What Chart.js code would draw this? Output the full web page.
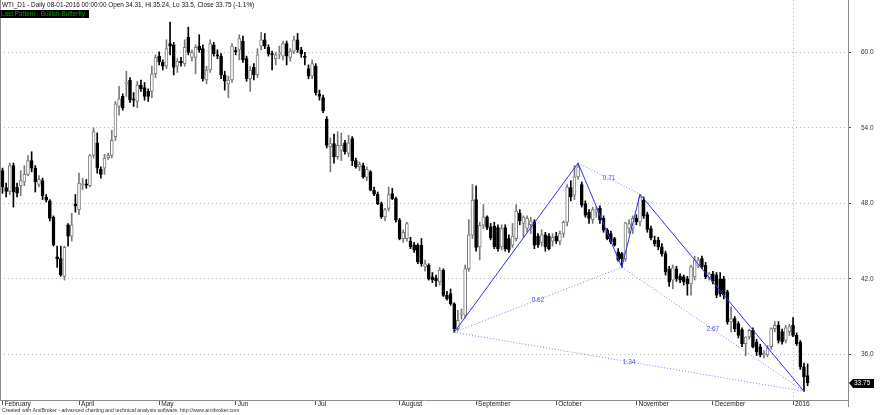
<!DOCTYPE html>
<html>
<head>
<meta charset="utf-8">
<title>WTI_D1 - Daily</title>
<script src="https://cdn.jsdelivr.net/npm/chart.js@4.4.0/dist/chart.umd.min.js"></script>
<style>
    html, body { margin: 0; padding: 0; background: #ffffff; }
    #wrap { width: 880px; height: 415px; }
</style>
</head>
<body>
<div id="wrap"><canvas id="wtiChart" width="880" height="415"></canvas></div>
<script>
// ==== DONNEES ====

// Etiquettes de l'axe du temps (position = numero de la barre)
const monthLabels = ['February', 'April', 'May', 'Jun', 'Jul', 'August', 'September', 'October', 'November', 'December', '2016'];
const monthIndex = [0, 21, 43, 64, 86, 109, 130, 152, 174, 195, 217];
const yearIndex = 217;

// Graduations de prix
const priceTicks = [36, 42, 48, 54, 60];

// Cours journaliers (une valeur par barre)
const openP = [
    50.6, 49.25, 48.95, 51.0, 49.3, 49.4, 49.7, 50.3, 51.4, 50.8, 49.5, 49.8, 48.5, 48.2, 46.9, 43.75, 43.6, 42.2, 46.3, 45.4,
    47.95, 47.5, 49.45, 49.55, 49.4, 51.8, 52.8, 50.7, 50.8, 51.6, 51.8, 53.3, 55.7, 56.5, 57.5, 57.8, 56.3, 56.1, 57.4, 57.2,
    56.9, 56.9, 58.3, 59.7, 59.2, 58.9, 60.7, 60.6, 58.9, 59.3, 59.1, 61.2, 59.6, 59.6, 60.5, 60.3, 57.8, 58.6, 60.6, 59.8,
    59.7, 58.2, 57.5, 57.8, 60.15, 60.2, 60.9, 59.5, 57.9, 58.8, 58.2, 60.5, 61.0, 60.4, 59.9, 59.5, 59.85, 59.7, 60.7, 59.6,
    60.1, 61.0, 60.2, 59.7, 58.7, 58.1, 58.9, 56.7, 56.4, 54.7, 52.5, 52.75, 51.7, 52.2, 52.8, 51.96, 53.15, 51.4, 50.9, 51.0,
    50.05, 50.5, 49.04, 48.72, 47.98, 46.92, 47.6, 48.78, 48.38, 46.66, 45.2, 45.2, 44.98, 44.7, 44.67, 44.67, 42.94, 43.07, 42.15, 42.07,
    41.75, 42.68, 40.69, 40.82, 40.02, 38.04, 39.2, 39.1, 42.8, 45.47, 48.3, 44.54, 46.26, 46.93, 46.13, 46.2, 46.08, 44.54, 46.08, 45.2,
    44.67, 45.2, 47.2, 46.4, 46.0, 46.3, 46.5, 45.4, 44.9, 45.5, 45.4, 45.0, 45.4, 45.0, 45.6, 46.5, 49.26, 48.65, 50.1, 49.5,
    47.99, 47.3, 46.7, 47.3, 47.6, 46.8, 45.87, 45.6, 45.2, 44.14, 44.0, 43.61, 46.0, 46.0, 46.8, 46.53, 48.25, 47.11, 46.0, 45.07,
    45.07, 44.54, 44.0, 42.8, 41.9, 42.8, 42.2, 42.15, 42.0, 41.6, 42.15, 43.0, 43.6, 43.08, 42.1, 42.4, 42.3, 42.0, 42.0, 40.96,
    38.57, 38.84, 38.44, 37.96, 36.85, 37.38, 37.9, 37.0, 36.6, 35.95, 35.95, 36.6, 38.04, 38.31, 37.8, 37.1, 37.8, 38.31, 37.5, 36.98,
    35.0, 34.31
];
const highP = [
    50.8, 49.6, 51.2, 51.2, 49.6, 50.6, 51.0, 51.8, 52.1, 51.0, 50.2, 50.0, 48.7, 48.3, 47.0, 44.6, 44.6, 44.6, 46.4, 47.2,
    48.7, 50.4, 50.0, 49.9, 51.9, 54.0, 53.6, 50.9, 51.9, 52.0, 53.8, 56.1, 57.3, 56.7, 58.5, 58.0, 56.8, 57.7, 57.8, 57.6,
    57.1, 58.9, 59.8, 60.05, 59.4, 61.0, 62.4, 60.8, 59.5, 59.6, 61.0, 62.0, 60.2, 60.6, 61.4, 60.6, 58.9, 61.0, 60.8, 60.2,
    59.9, 58.5, 58.1, 60.7, 60.4, 61.4, 61.3, 59.7, 58.9, 59.1, 60.3, 61.6, 61.5, 60.6, 60.1, 60.0, 60.5, 60.9, 60.9, 60.3,
    61.3, 61.5, 60.4, 60.0, 59.0, 59.4, 59.1, 57.0, 56.6, 54.9, 53.2, 53.5, 53.7, 53.6, 53.0, 53.4, 53.3, 51.6, 51.3, 51.2,
    50.9, 50.6, 49.3, 48.9, 48.1, 47.6, 49.3, 49.2, 48.5, 46.8, 45.9, 46.5, 45.3, 44.9, 44.8, 45.2, 43.5, 43.2, 42.5, 42.3,
    42.9, 42.8, 41.0, 41.2, 40.1, 39.5, 39.6, 43.1, 46.7, 49.5, 49.4, 46.5, 47.9, 47.0, 46.4, 46.5, 46.3, 46.3, 46.3, 45.5,
    46.4, 47.9, 47.5, 47.0, 47.0, 46.9, 46.7, 45.6, 45.9, 45.7, 45.6, 45.6, 45.7, 45.8, 46.6, 49.5, 49.8, 51.0, 51.2, 49.7,
    48.2, 47.5, 47.7, 47.7, 47.8, 47.0, 46.0, 45.8, 45.3, 44.4, 44.1, 46.5, 46.7, 47.0, 47.1, 48.72, 48.5, 47.3, 46.2, 45.4,
    45.3, 44.8, 44.2, 43.0, 43.1, 43.0, 42.4, 42.3, 42.2, 43.1, 43.8, 43.7, 43.8, 43.3, 42.5, 42.6, 42.5, 42.5, 42.2, 41.1,
    39.77, 39.0, 38.6, 38.1, 37.4, 38.0, 38.1, 37.2, 36.8, 36.3, 36.7, 38.1, 38.6, 38.6, 38.0, 38.3, 38.4, 38.92, 37.7, 37.1,
    35.3, 35.24
];
const lowP = [
    48.8, 48.5, 48.7, 47.7, 48.5, 48.6, 49.4, 50.2, 50.5, 48.9, 49.3, 48.3, 48.1, 46.6, 44.6, 42.9, 42.2, 41.9, 44.6, 45.0,
    47.3, 47.1, 49.1, 49.2, 49.3, 51.6, 50.4, 50.0, 50.3, 51.5, 51.6, 53.0, 55.0, 55.4, 56.5, 56.0, 55.7, 55.6, 56.9, 56.2,
    56.1, 56.4, 58.0, 59.0, 58.6, 58.7, 59.8, 58.2, 58.4, 58.9, 58.9, 59.8, 59.3, 58.3, 60.0, 57.7, 57.5, 58.4, 59.7, 59.5,
    57.9, 57.0, 56.4, 57.6, 59.8, 59.4, 59.2, 57.7, 56.9, 57.8, 58.0, 60.2, 60.3, 59.7, 58.6, 59.0, 59.5, 59.4, 59.0, 59.3,
    59.9, 60.0, 59.6, 59.0, 57.9, 57.9, 56.6, 56.2, 55.2, 52.4, 50.5, 51.2, 51.5, 51.4, 51.9, 51.7, 51.0, 50.8, 50.6, 50.0,
    49.8, 49.0, 48.6, 47.9, 46.8, 46.6, 47.4, 48.3, 46.5, 45.1, 44.9, 45.0, 44.4, 44.1, 43.2, 43.0, 42.6, 41.9, 41.7, 41.4,
    41.5, 40.6, 40.3, 39.9, 37.75, 37.9, 38.8, 38.9, 42.6, 45.2, 44.2, 43.5, 46.0, 45.9, 45.1, 44.4, 44.2, 44.3, 44.2, 44.1,
    44.5, 45.0, 46.3, 45.3, 45.7, 45.6, 44.4, 44.5, 44.6, 44.2, 44.3, 44.6, 44.8, 44.7, 45.3, 46.2, 48.2, 48.3, 49.9, 47.7,
    46.9, 46.4, 46.4, 46.9, 46.4, 45.7, 45.1, 44.8, 44.6, 43.4, 42.92, 43.4, 45.6, 45.6, 46.3, 46.2, 46.8, 45.7, 45.1, 44.6,
    44.3, 43.8, 42.3, 41.4, 41.2, 41.8, 41.7, 41.5, 40.7, 40.7, 41.9, 42.9, 42.8, 42.0, 41.9, 41.6, 40.5, 40.6, 40.4, 38.4,
    37.78, 37.8, 37.3, 36.6, 35.9, 37.2, 36.5, 35.9, 35.8, 35.7, 35.8, 36.4, 37.8, 36.9, 36.8, 36.9, 37.5, 37.4, 36.7, 34.8,
    33.06, 33.5
];
const closeP = [
    49.3, 48.95, 51.0, 48.9, 48.8, 49.8, 50.3, 51.4, 50.8, 49.7, 49.9, 48.6, 48.25, 46.8, 44.7, 43.6, 42.3, 44.5, 45.4, 46.3,
    47.8, 49.6, 49.55, 49.45, 51.8, 53.7, 50.8, 50.3, 51.6, 51.8, 53.0, 55.9, 56.3, 55.6, 57.6, 56.2, 56.2, 57.4, 57.1, 56.5,
    56.5, 58.3, 59.6, 59.25, 58.9, 60.3, 60.5, 58.8, 59.3, 59.15, 60.4, 60.0, 60.0, 60.4, 60.2, 57.9, 58.6, 60.7, 59.9, 59.7,
    58.2, 57.7, 57.8, 60.5, 60.05, 61.1, 59.4, 57.9, 58.6, 58.2, 59.8, 61.0, 60.5, 59.9, 59.8, 59.8, 59.95, 60.7, 59.7, 60.1,
    61.0, 60.2, 59.9, 59.6, 58.1, 59.1, 56.8, 56.5, 55.35, 52.6, 52.75, 51.7, 52.6, 52.6, 52.1, 52.8, 51.4, 50.9, 51.1, 50.1,
    50.7, 49.04, 48.72, 47.98, 46.92, 47.5, 48.7, 48.38, 46.66, 45.2, 45.7, 46.4, 44.53, 44.27, 43.34, 43.2, 43.2, 42.0, 41.93, 41.83,
    42.7, 40.69, 40.42, 40.02, 38.04, 38.7, 39.28, 42.8, 45.5, 48.25, 44.5, 46.26, 46.93, 46.08, 45.28, 44.54, 44.4, 46.0, 44.4, 44.3,
    45.4, 47.4, 46.6, 46.9, 46.8, 46.6, 44.67, 44.7, 45.5, 44.54, 44.4, 45.3, 45.0, 45.6, 46.5, 49.3, 48.5, 50.1, 50.9, 47.85,
    47.06, 46.8, 47.5, 47.5, 46.66, 45.87, 45.2, 44.94, 44.67, 43.48, 43.61, 46.45, 46.4, 46.8, 46.53, 48.52, 46.98, 45.92, 45.28, 44.8,
    44.54, 44.0, 42.55, 41.75, 42.9, 42.0, 41.9, 41.75, 41.6, 42.95, 43.5, 43.5, 42.95, 42.15, 42.4, 41.8, 40.7, 40.8, 40.7, 38.57,
    38.84, 38.04, 37.5, 36.85, 37.38, 37.91, 36.6, 36.2, 35.95, 36.1, 36.5, 38.04, 38.31, 37.11, 37.0, 38.1, 38.2, 37.5, 36.85, 35.0,
    34.2, 33.75
];

// Figure harmonique (papillon haussier) : X, A, B, C, D
const patternNames = ['X', 'A', 'B', 'C', 'D'];
const patternIndex = [124, 158, 170, 175, 220];
const patternPrice = [37.75, 51.2, 42.92, 48.72, 33.06];

// Rapports de Fibonacci (segments pointilles)
const ratioFrom = [0, 1, 2, 0];
const ratioTo = [2, 3, 4, 4];
const ratioLabels = ['0.62', '0.71', '2.67', '1.34'];

// ==== STYLE ====
const FONT = "'Liberation Sans', Arial, sans-serif";
const UP_FILL = '#ffffff';
const UP_LINE = '#7a7a7a';
const DOWN_COLOR = '#000000';
const AXIS_COLOR = '#8c8c8c';
const GRID_COLOR = '#b8b8b8';
const PATTERN_COLOR = '#2f2fff';
const RATIO_COLOR = '#7c7cff';

// Echelles (bornes de la fenetre du graphique)
const X_MIN = -0.686;
const X_MAX = 232.09;
const Y_MIN = 32.37;
const Y_MAX = 64.16;

document.addEventListener('DOMContentLoaded', function() {
    initializeChart();
});

/**
 * Sens d'une bougie
 */
function isUp(i) {
    return closeP[i] >= openP[i];
}

/**
 * Dessin des textes et decorations propres a AmiBroker
 */
const amiOverlay = {
    id: 'amiOverlay',
    afterDraw(chart) {
        const ctx = chart.ctx;
        const area = chart.chartArea;
        const xs = chart.scales.x;
        const ys = chart.scales.y;
        const last = closeP.length - 1;

        ctx.save();

        // Bord gauche et prolongement de l'axe droit
        ctx.strokeStyle = AXIS_COLOR;
        ctx.lineWidth = 1;
        ctx.beginPath();
        ctx.moveTo(area.left + 0.5, area.top);
        ctx.lineTo(area.left + 0.5, area.bottom);
        ctx.moveTo(area.right + 0.5, area.bottom);
        ctx.lineTo(area.right + 0.5, area.bottom + 7);
        ctx.stroke();

        // Etiquettes des mois
        ctx.font = '6.6px ' + FONT;
        ctx.fillStyle = '#222222';
        ctx.textBaseline = 'middle';
        ctx.textAlign = 'left';
        monthLabels.forEach((label, k) => {
            const px = xs.getPixelForValue(monthIndex[k]);
            ctx.fillText(label, px + 2, area.bottom + 4.5);
        });

        // Rapports de la figure
        ctx.font = '6.5px ' + FONT;
        ctx.fillStyle = '#4a4aff';
        ctx.textAlign = 'center';
        ratioLabels.forEach((label, k) => {
            const a = ratioFrom[k];
            const b = ratioTo[k];
            const mx = (xs.getPixelForValue(patternIndex[a]) + xs.getPixelForValue(patternIndex[b])) / 2;
            const my = (ys.getPixelForValue(patternPrice[a]) + ys.getPixelForValue(patternPrice[b])) / 2;
            ctx.fillText(label, mx, my);
        });

        // Etiquette du dernier cours
        const py = Math.round(ys.getPixelForValue(closeP[last]));
        ctx.fillStyle = '#000000';
        ctx.beginPath();
        ctx.moveTo(area.right + 1, py);
        ctx.lineTo(area.right + 5, py - 4);
        ctx.lineTo(area.right + 26, py - 4);
        ctx.lineTo(area.right + 26, py + 5);
        ctx.lineTo(area.right + 5, py + 5);
        ctx.closePath();
        ctx.fill();
        ctx.fillStyle = '#ffffff';
        ctx.textAlign = 'left';
        ctx.font = '6.5px ' + FONT;
        ctx.fillText(closeP[last].toFixed(2), area.right + 6, py + 0.5);

        // En-tete
        ctx.fillStyle = '#111111';
        ctx.font = '6.4px ' + FONT;
        ctx.fillText('WTI_D1 - Daily 08-01-2016 00:00:00 Open ' + openP[last] + ', Hi ' + highP[last] +
            ', Lo ' + lowP[last] + ', Close ' + closeP[last] + ' (-1.1%)', 2, 5);
        ctx.fillStyle = '#000000';
        ctx.fillRect(0, 10, 89, 8);
        ctx.fillStyle = '#00a000';
        ctx.fillText('Last Pattern : Bullish Butterfly', 1, 14);

        // Pied de page
        ctx.fillStyle = '#333333';
        ctx.font = '5.2px ' + FONT;
        ctx.fillText('Created with AmiBroker - advanced charting and technical analysis software. http://www.amibroker.com', 2, 411);

        ctx.restore();
    }
};

/**
 * Initialisation du graphique
 */
function initializeChart() {
    const ctx = document.getElementById('wtiChart').getContext('2d');

    const bodies = openP.map((o, i) => ({ x: i, y: [o, closeP[i]] }));
    const wicks = openP.map((o, i) => ({ x: i, y: [lowP[i], highP[i]] }));

    // Segments pleins X-A-B-C-D
    const patternLine = patternIndex.map((x, k) => ({ x: x, y: patternPrice[k] }));

    const datasets = [
        {
            type: 'line',
            data: patternLine,
            borderColor: PATTERN_COLOR,
            borderWidth: 1,
            pointRadius: 0,
            tension: 0,
            order: 0
        },
        {
            type: 'bar',
            data: bodies,
            grouped: false,
            barThickness: 3,
            minBarLength: 1,
            borderWidth: 1,
            borderSkipped: false,
            backgroundColor: bodies.map((b, i) => isUp(i) ? UP_FILL : DOWN_COLOR),
            borderColor: bodies.map((b, i) => isUp(i) ? UP_LINE : DOWN_COLOR),
            order: 1
        },
        {
            type: 'bar',
            data: wicks,
            grouped: false,
            barThickness: 1,
            borderWidth: 0,
            backgroundColor: wicks.map((w, i) => isUp(i) ? UP_LINE : DOWN_COLOR),
            order: 2
        }
    ];

    // Segments pointilles des rapports
    ratioFrom.forEach((a, k) => {
        const b = ratioTo[k];
        datasets.push({
            type: 'line',
            data: [
                { x: patternIndex[a], y: patternPrice[a] },
                { x: patternIndex[b], y: patternPrice[b] }
            ],
            borderColor: RATIO_COLOR,
            borderWidth: 1,
            borderDash: [1, 2],
            pointRadius: 0,
            order: 0
        });
    });

    window.wtiChart = new Chart(ctx, {
        type: 'bar',
        data: { datasets: datasets },
        options: {
            responsive: false,
            animation: false,
            layout: { padding: 0, autoPadding: false },
            plugins: {
                legend: { display: false },
                tooltip: { enabled: false }
            },
            scales: {
                x: {
                    type: 'linear',
                    min: X_MIN,
                    max: X_MAX,
                    offset: false,
                    afterBuildTicks: s => { s.ticks = monthIndex.map(v => ({ value: v })); },
                    afterFit: s => {
                        s.height = 15;
                        s.paddingLeft = 0;
                        s.paddingRight = 0;
                    },
                    ticks: { display: false },
                    grid: {
                        offset: false,
                        color: c => (c.tick && c.tick.value === yearIndex) ? GRID_COLOR : 'rgba(0,0,0,0)',
                        tickColor: '#555555',
                        tickLength: 5
                    },
                    border: { display: true, color: AXIS_COLOR, dash: [1, 3] }
                },
                y: {
                    position: 'right',
                    min: Y_MIN,
                    max: Y_MAX,
                    afterBuildTicks: s => { s.ticks = priceTicks.map(v => ({ value: v })); },
                    afterFit: s => {
                        s.width = 32;
                        s.paddingTop = 0;
                        s.paddingBottom = 0;
                    },
                    ticks: {
                        callback: v => v.toFixed(1),
                        font: { family: FONT, size: 6.5 },
                        color: '#333333',
                        padding: 10
                    },
                    grid: { color: GRID_COLOR, tickColor: '#555555', tickLength: 3 },
                    border: { display: true, color: AXIS_COLOR, dash: [1, 3] }
                }
            }
        },
        plugins: [amiOverlay]
    });
}
</script>
</body>
</html>
